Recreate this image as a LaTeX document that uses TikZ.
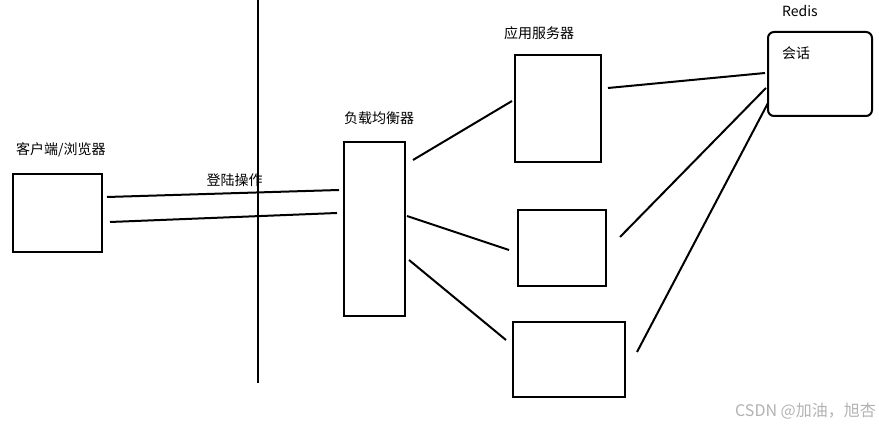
\documentclass[tikz,border=0pt]{standalone}
\usepackage{fontspec}
\setmainfont{Noto Sans CJK SC}
\usetikzlibrary{positioning,calc}

\begin{document}
\begin{tikzpicture}[
    x=1pt, y=-1pt,
    box/.style={rectangle, draw, line width=2pt, inner sep=0pt},
    label/.style={font=\fontsize{14}{16}\selectfont, inner sep=0pt},
    line/.style={line width=2pt}
]
    \useasboundingbox (0,0) rectangle (879,427);

    % Client
    \node[box, minimum width=89pt, minimum height=78pt] (client) at (57.5,213) {};
    \node[label, anchor=west] (clientlbl) at (16,150) {客户端/浏览器};

    % Divider
    \coordinate (walltop) at (258,0);
    \coordinate (wallbot) at (258,383);
    \draw[line] (walltop) -- (wallbot);

    % Load balancer
    \node[box, minimum width=61pt, minimum height=174pt] (lb) at (374.5,229) {};
    \node[label, anchor=west] (lblbl) at (344,118) {负载均衡器};

    % App servers
    \node[box, minimum width=86pt, minimum height=107pt] (app1) at (558,108.5) {};
    \node[label, anchor=west] (applbl) at (504,33) {应用服务器};
    \node[box, minimum width=88pt, minimum height=76pt] (app2) at (562,248) {};
    \node[box, minimum width=112pt, minimum height=75pt] (app3) at (569,359.5) {};

    % Redis
    \node[box, rounded corners=6pt, minimum width=104pt, minimum height=84pt] (redis) at (820,74) {};
    \node[label, anchor=west] (redislbl) at (782,11) {Redis};
    \node[label, anchor=west] (session) at (782,53) {会话};

    % Login
    \draw[line] ($(client.east)+(4,-16)$) -- ($(lb.west)+(-4,-39)$)
        node[label, pos=0.55, above=6pt] (login) {登陆操作};
    \draw[line] ($(client.east)+(7,9)$) -- ($(lb.west)+(-6,-16)$);

    % To app servers
    \draw[line] ($(lb.east)+(7,-69)$) -- ($(app1.west)+(-2,-7.5)$);
    \draw[line] ($(lb.east)+(1,-13)$) -- ($(app2.west)+(-8,2)$);
    \draw[line] ($(lb.east)+(3,31)$) -- ($(app3.west)+(-6,-19.5)$);

    % To Redis
    \draw[line] ($(app1.east)+(6,-20.5)$) -- ($(redis.west)+(-2,-1)$);
    \draw[line] ($(app2.east)+(13,-11)$) -- ($(redis.west)+(-1,14)$);
    \draw[line] ($(app3.east)+(11,-7.5)$) -- ($(redis.west)+(1,29)$);

    % Watermark
    \node[label, font=\fontsize{16}{18}\selectfont, anchor=east, text=black!30] (mark) at (876,411) {CSDN @加油，旭杏};

\end{tikzpicture}
\end{document}
